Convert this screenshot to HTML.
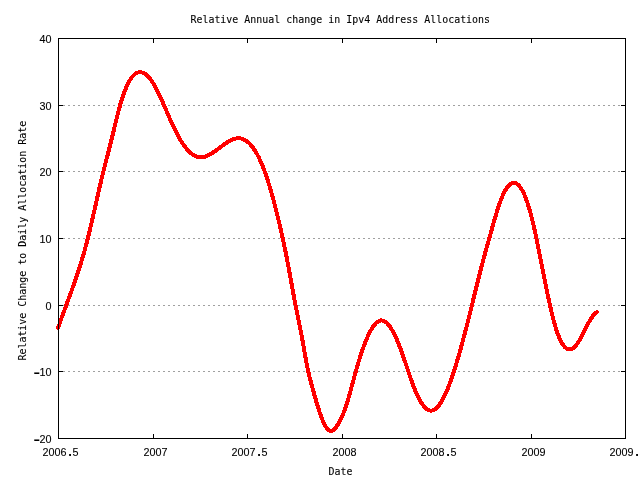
<!DOCTYPE html>
<html><head><meta charset="utf-8"><title>Relative Annual change in Ipv4 Address Allocations</title>
<style>html,body{margin:0;padding:0;background:#fff;overflow:hidden}svg{display:block}text{font-family:"DejaVu Sans Mono","Liberation Mono",monospace;font-size:11px;fill:#000;stroke:#000;stroke-width:0.1px;white-space:pre}text.n{font-family:"Liberation Sans","DejaVu Sans",sans-serif;font-size:10.8px}tspan.d{font-family:"DejaVu Sans Mono",monospace;font-weight:bold;font-size:11px}tspan.m{font-family:"DejaVu Sans Mono",monospace;font-size:20px;stroke:none}</style></head><body>
<svg width="640" height="480" viewBox="0 0 640 480">
<rect width="640" height="480" fill="#fff"/>
<g stroke="#a0a0a0" stroke-width="1" stroke-dasharray="2,3" shape-rendering="crispEdges">
<line x1="58" y1="105.5" x2="625" y2="105.5"/>
<line x1="58" y1="171.5" x2="625" y2="171.5"/>
<line x1="58" y1="238.5" x2="625" y2="238.5"/>
<line x1="58" y1="305.5" x2="625" y2="305.5"/>
<line x1="58" y1="371.5" x2="625" y2="371.5"/>
</g>
<path d="M58.1,328.0 L59.1,325.1 L60.1,322.2 L61.1,319.3 L62.1,316.5 L63.1,313.8 L64.1,311.0 L65.1,308.3 L66.1,305.6 L67.1,302.9 L68.1,300.2 L69.1,297.5 L70.1,294.7 L71.1,292.0 L72.1,289.3 L73.1,286.5 L74.1,283.7 L75.1,280.8 L76.1,277.9 L77.1,274.9 L78.1,271.9 L79.1,268.9 L80.1,265.7 L81.1,262.5 L82.1,259.2 L83.1,255.8 L84.1,252.3 L85.1,248.7 L86.1,245.0 L87.1,241.2 L88.1,237.2 L89.1,233.2 L90.1,229.0 L91.1,224.8 L92.1,220.4 L93.1,216.0 L94.1,211.6 L95.1,207.2 L96.1,202.7 L97.1,198.3 L98.1,193.9 L99.1,189.5 L100.1,185.2 L101.1,180.9 L102.1,176.8 L103.1,172.7 L104.1,168.7 L105.1,164.7 L106.1,160.8 L107.1,156.9 L108.1,153.0 L109.1,149.1 L110.1,145.2 L111.1,141.3 L112.1,137.2 L113.1,133.2 L114.1,129.0 L115.1,124.9 L116.1,120.8 L117.1,116.7 L118.1,112.7 L119.1,108.9 L120.1,105.2 L121.1,101.8 L122.1,98.6 L123.1,95.5 L124.1,92.7 L125.1,90.1 L126.1,87.7 L127.1,85.5 L128.1,83.4 L129.1,81.6 L130.1,79.9 L131.1,78.4 L132.1,77.0 L133.1,75.9 L134.1,74.9 L135.1,74.0 L136.1,73.4 L137.1,72.8 L138.1,72.5 L139.1,72.3 L140.1,72.2 L141.1,72.3 L142.1,72.5 L143.1,72.8 L144.1,73.3 L145.1,73.9 L146.1,74.7 L147.1,75.6 L148.1,76.6 L149.1,77.7 L150.1,78.9 L151.1,80.2 L152.1,81.7 L153.1,83.2 L154.1,84.9 L155.1,86.7 L156.1,88.5 L157.1,90.4 L158.1,92.4 L159.1,94.5 L160.1,96.6 L161.1,98.8 L162.1,101.0 L163.1,103.2 L164.1,105.5 L165.1,107.8 L166.1,110.1 L167.1,112.4 L168.1,114.7 L169.1,117.0 L170.1,119.3 L171.1,121.5 L172.1,123.7 L173.1,125.9 L174.1,128.0 L175.1,130.1 L176.1,132.1 L177.1,134.0 L178.1,135.9 L179.1,137.7 L180.1,139.4 L181.1,141.1 L182.1,142.6 L183.1,144.2 L184.1,145.6 L185.1,146.9 L186.1,148.2 L187.1,149.4 L188.1,150.5 L189.1,151.5 L190.1,152.4 L191.1,153.3 L192.1,154.1 L193.1,154.8 L194.1,155.4 L195.1,155.9 L196.1,156.4 L197.1,156.7 L198.1,157.0 L199.1,157.2 L200.1,157.3 L201.1,157.3 L202.1,157.2 L203.1,157.1 L204.1,156.9 L205.1,156.6 L206.1,156.3 L207.1,155.9 L208.1,155.4 L209.1,154.9 L210.1,154.4 L211.1,153.8 L212.1,153.2 L213.1,152.5 L214.1,151.8 L215.1,151.1 L216.1,150.4 L217.1,149.7 L218.1,148.9 L219.1,148.2 L220.1,147.4 L221.1,146.7 L222.1,145.9 L223.1,145.2 L224.1,144.5 L225.1,143.7 L226.1,143.1 L227.1,142.4 L228.1,141.8 L229.1,141.2 L230.1,140.7 L231.1,140.2 L232.1,139.7 L233.1,139.3 L234.1,139.0 L235.1,138.7 L236.1,138.5 L237.1,138.3 L238.1,138.3 L239.1,138.3 L240.1,138.4 L241.1,138.5 L242.1,138.8 L243.1,139.1 L244.1,139.6 L245.1,140.1 L246.1,140.7 L247.1,141.4 L248.1,142.3 L249.1,143.2 L250.1,144.2 L251.1,145.3 L252.1,146.5 L253.1,147.8 L254.1,149.3 L255.1,150.8 L256.1,152.5 L257.1,154.2 L258.1,156.1 L259.1,158.1 L260.1,160.2 L261.1,162.4 L262.1,164.8 L263.1,167.3 L264.1,169.9 L265.1,172.6 L266.1,175.5 L267.1,178.4 L268.1,181.5 L269.1,184.7 L270.1,188.1 L271.1,191.5 L272.1,195.0 L273.1,198.6 L274.1,202.4 L275.1,206.2 L276.1,210.1 L277.1,214.1 L278.1,218.2 L279.1,222.4 L280.1,226.6 L281.1,231.0 L282.1,235.5 L283.1,240.1 L284.1,244.8 L285.1,249.6 L286.1,254.5 L287.1,259.6 L288.1,264.8 L289.1,270.2 L290.1,275.7 L291.1,281.3 L292.1,286.8 L293.1,292.3 L294.1,297.6 L295.1,302.8 L296.1,307.8 L297.1,312.9 L298.1,317.8 L299.1,322.8 L300.1,327.9 L301.1,333.1 L302.1,338.4 L303.1,343.9 L304.1,349.5 L305.1,355.2 L306.1,360.7 L307.1,365.9 L308.1,370.7 L309.1,375.1 L310.1,379.1 L311.1,382.8 L312.1,386.5 L313.1,390.1 L314.1,393.8 L315.1,397.3 L316.1,400.8 L317.1,404.2 L318.1,407.5 L319.1,410.6 L320.1,413.6 L321.1,416.5 L322.1,419.1 L323.1,421.5 L324.1,423.7 L325.1,425.6 L326.1,427.2 L327.1,428.6 L328.1,429.7 L329.1,430.5 L330.1,430.9 L331.1,431.0 L332.1,430.8 L333.1,430.2 L334.1,429.4 L335.1,428.4 L336.1,427.1 L337.1,425.7 L338.1,424.1 L339.1,422.3 L340.1,420.5 L341.1,418.5 L342.1,416.3 L343.1,414.0 L344.1,411.5 L345.1,408.8 L346.1,405.9 L347.1,402.7 L348.1,399.4 L349.1,395.9 L350.1,392.4 L351.1,388.7 L352.1,385.1 L353.1,381.3 L354.1,377.7 L355.1,374.0 L356.1,370.4 L357.1,366.9 L358.1,363.5 L359.1,360.2 L360.1,357.0 L361.1,353.9 L362.1,351.0 L363.1,348.1 L364.1,345.4 L365.1,342.7 L366.1,340.2 L367.1,337.9 L368.1,335.6 L369.1,333.6 L370.1,331.6 L371.1,329.8 L372.1,328.1 L373.1,326.6 L374.1,325.3 L375.1,324.1 L376.1,323.0 L377.1,322.2 L378.1,321.5 L379.1,320.9 L380.1,320.6 L381.1,320.4 L382.1,320.5 L383.1,320.7 L384.1,321.1 L385.1,321.6 L386.1,322.4 L387.1,323.2 L388.1,324.3 L389.1,325.5 L390.1,326.9 L391.1,328.4 L392.1,330.0 L393.1,331.8 L394.1,333.7 L395.1,335.7 L396.1,337.9 L397.1,340.2 L398.1,342.6 L399.1,345.1 L400.1,347.7 L401.1,350.4 L402.1,353.2 L403.1,356.1 L404.1,359.0 L405.1,361.9 L406.1,364.9 L407.1,367.9 L408.1,370.9 L409.1,373.8 L410.1,376.7 L411.1,379.6 L412.1,382.4 L413.1,385.1 L414.1,387.7 L415.1,390.2 L416.1,392.6 L417.1,394.8 L418.1,396.9 L419.1,398.9 L420.1,400.7 L421.1,402.4 L422.1,403.9 L423.1,405.3 L424.1,406.5 L425.1,407.6 L426.1,408.5 L427.1,409.2 L428.1,409.8 L429.1,410.3 L430.1,410.5 L431.1,410.6 L432.1,410.5 L433.1,410.2 L434.1,409.8 L435.1,409.2 L436.1,408.4 L437.1,407.4 L438.1,406.4 L439.1,405.1 L440.1,403.7 L441.1,402.2 L442.1,400.5 L443.1,398.7 L444.1,396.7 L445.1,394.7 L446.1,392.5 L447.1,390.1 L448.1,387.7 L449.1,385.2 L450.1,382.5 L451.1,379.7 L452.1,376.9 L453.1,373.9 L454.1,370.9 L455.1,367.7 L456.1,364.5 L457.1,361.2 L458.1,357.8 L459.1,354.3 L460.1,350.8 L461.1,347.2 L462.1,343.5 L463.1,339.8 L464.1,336.1 L465.1,332.2 L466.1,328.4 L467.1,324.5 L468.1,320.5 L469.1,316.5 L470.1,312.5 L471.1,308.5 L472.1,304.4 L473.1,300.4 L474.1,296.3 L475.1,292.2 L476.1,288.1 L477.1,284.1 L478.1,280.1 L479.1,276.1 L480.1,272.1 L481.1,268.3 L482.1,264.4 L483.1,260.7 L484.1,257.0 L485.1,253.3 L486.1,249.7 L487.1,246.1 L488.1,242.5 L489.1,238.9 L490.1,235.3 L491.1,231.7 L492.1,228.2 L493.1,224.6 L494.1,221.1 L495.1,217.7 L496.1,214.4 L497.1,211.1 L498.1,208.0 L499.1,205.0 L500.1,202.2 L501.1,199.5 L502.1,197.0 L503.1,194.7 L504.1,192.6 L505.1,190.7 L506.1,189.0 L507.1,187.6 L508.1,186.3 L509.1,185.2 L510.1,184.3 L511.1,183.6 L512.1,183.1 L513.1,182.9 L514.1,182.8 L515.1,183.0 L516.1,183.4 L517.1,184.0 L518.1,184.8 L519.1,185.8 L520.1,187.0 L521.1,188.5 L522.1,190.1 L523.1,192.0 L524.1,194.1 L525.1,196.5 L526.1,199.1 L527.1,201.9 L528.1,204.9 L529.1,208.1 L530.1,211.6 L531.1,215.3 L532.1,219.3 L533.1,223.4 L534.1,227.8 L535.1,232.3 L536.1,237.0 L537.1,241.8 L538.1,246.7 L539.1,251.7 L540.1,256.7 L541.1,261.8 L542.1,266.9 L543.1,272.0 L544.1,277.1 L545.1,282.1 L546.1,287.1 L547.1,292.0 L548.1,296.7 L549.1,301.4 L550.1,305.9 L551.1,310.3 L552.1,314.4 L553.1,318.4 L554.1,322.2 L555.1,325.7 L556.1,329.0 L557.1,332.0 L558.1,334.8 L559.1,337.3 L560.1,339.5 L561.1,341.5 L562.1,343.3 L563.1,344.9 L564.1,346.2 L565.1,347.3 L566.1,348.1 L567.1,348.8 L568.1,349.2 L569.1,349.4 L570.1,349.4 L571.1,349.2 L572.1,348.8 L573.1,348.2 L574.1,347.4 L575.1,346.4 L576.1,345.2 L577.1,343.9 L578.1,342.4 L579.1,340.8 L580.1,339.0 L581.1,337.2 L582.1,335.4 L583.1,333.4 L584.1,331.5 L585.1,329.5 L586.1,327.5 L587.1,325.6 L588.1,323.7 L589.1,321.9 L590.1,320.2 L591.1,318.6 L592.1,317.1 L593.1,315.7 L594.1,314.5 L595.1,313.5 L596.1,312.7 L596.9,312.2" fill="none" stroke="#ff0000" stroke-width="4" stroke-linejoin="round" stroke-linecap="round" shape-rendering="crispEdges"/>
<g stroke="#000" stroke-width="1" fill="none" shape-rendering="crispEdges">
<rect x="58.5" y="38.5" width="567" height="400"/>
<line x1="58" y1="105.5" x2="63" y2="105.5"/>
<line x1="621" y1="105.5" x2="626" y2="105.5"/>
<line x1="58" y1="171.5" x2="63" y2="171.5"/>
<line x1="621" y1="171.5" x2="626" y2="171.5"/>
<line x1="58" y1="238.5" x2="63" y2="238.5"/>
<line x1="621" y1="238.5" x2="626" y2="238.5"/>
<line x1="58" y1="305.5" x2="63" y2="305.5"/>
<line x1="621" y1="305.5" x2="626" y2="305.5"/>
<line x1="58" y1="371.5" x2="63" y2="371.5"/>
<line x1="621" y1="371.5" x2="626" y2="371.5"/>
<line x1="153.5" y1="434" x2="153.5" y2="439"/>
<line x1="153.5" y1="38" x2="153.5" y2="43"/>
<line x1="247.5" y1="434" x2="247.5" y2="439"/>
<line x1="247.5" y1="38" x2="247.5" y2="43"/>
<line x1="342.5" y1="434" x2="342.5" y2="439"/>
<line x1="342.5" y1="38" x2="342.5" y2="43"/>
<line x1="436.5" y1="434" x2="436.5" y2="439"/>
<line x1="436.5" y1="38" x2="436.5" y2="43"/>
<line x1="531.5" y1="434" x2="531.5" y2="439"/>
<line x1="531.5" y1="38" x2="531.5" y2="43"/>
</g>
<text class="n" x="39.6 45.6" y="43 43">40</text>
<text class="n" x="39.6 45.6" y="110 110">30</text>
<text class="n" x="39.6 45.6" y="176 176">20</text>
<text class="n" x="39.6 45.6" y="243 243">10</text>
<text class="n" x="45.6" y="310">0</text>
<text class="n" x="30.8 39.6 45.6" y="378.5 376 376"><tspan class="m">-</tspan>10</text>
<text class="n" x="30.8 39.6 45.6" y="445.5 443 443"><tspan class="m">-</tspan>20</text>
<text class="n" x="42.6 48.6 54.6 60.6 66.7 72.6" y="456 456 456 456 456 456">2006<tspan class="d">.</tspan>5</text>
<text class="n" x="143.6 149.6 155.6 161.6" y="456 456 456 456">2007</text>
<text class="n" x="231.6 237.6 243.6 249.6 255.7 261.6" y="456 456 456 456 456 456">2007<tspan class="d">.</tspan>5</text>
<text class="n" x="332.6 338.6 344.6 350.6" y="456 456 456 456">2008</text>
<text class="n" x="420.6 426.6 432.6 438.6 444.7 450.6" y="456 456 456 456 456 456">2008<tspan class="d">.</tspan>5</text>
<text class="n" x="521.6 527.6 533.6 539.6" y="456 456 456 456">2009</text>
<text class="n" x="609.6 615.6 621.6 627.6 633.7 639.6" y="456 456 456 456 456 456">2009<tspan class="d">.</tspan>5</text>
<text transform="translate(190.4,23) scale(0.9061,1)" >Relative Annual change in Ipv4 Address Allocations</text>
<text transform="translate(328.4,475) scale(0.9061,1)" >Date</text>
<text transform="translate(26,360.6) rotate(-90) scale(0.9061,1)">Relative Change to Daily Allocation Rate</text>
</svg></body></html>
